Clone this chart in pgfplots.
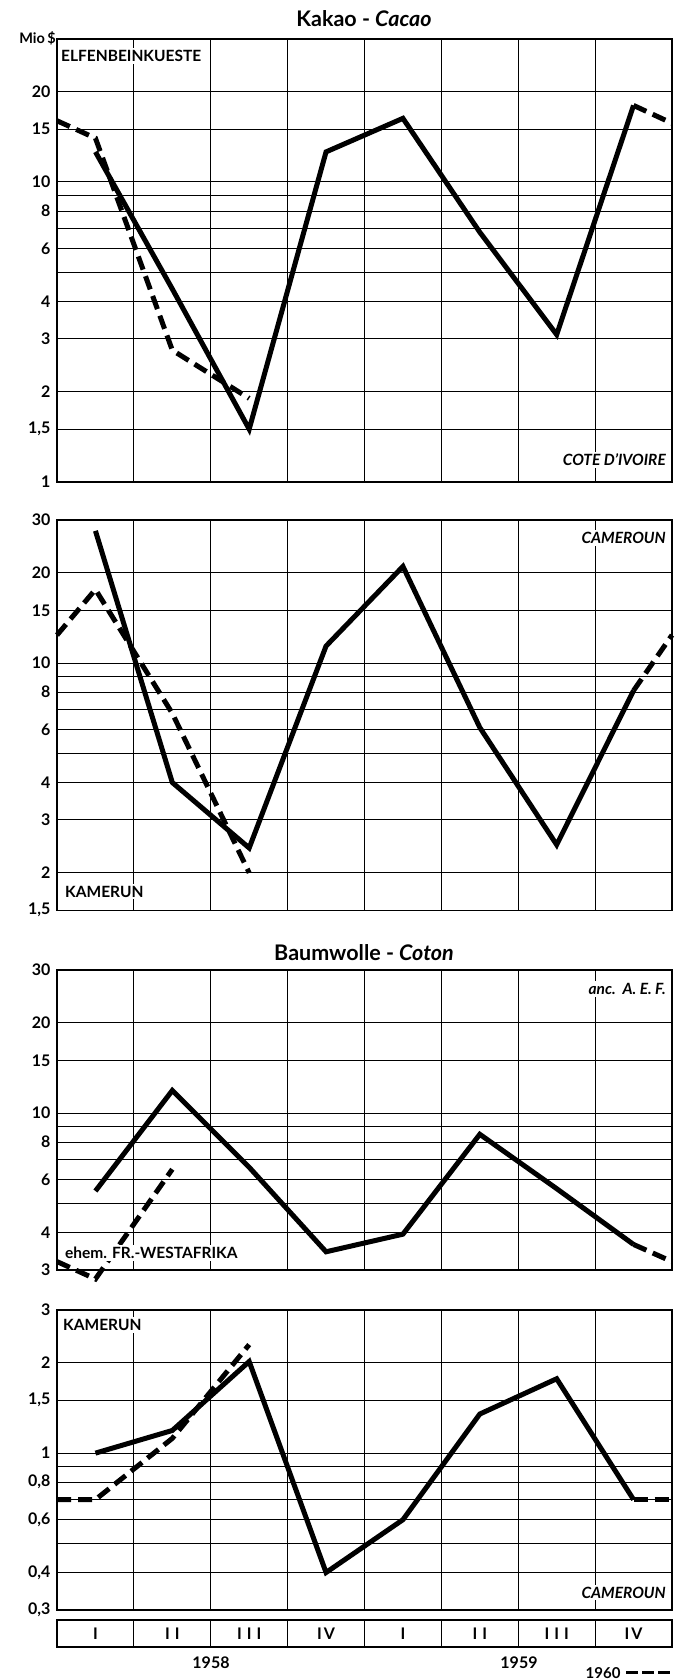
\documentclass[border=0pt]{standalone}
\usepackage{pgfplots}
\pgfplotsset{compat=1.18}
\usepackage{fontspec}
\setmainfont{Lato}
\tikzset{
  mySer/.style={black, line width=5pt, line join=miter, miter limit=4},
  mySerD/.style={black, line width=5pt, line join=miter, miter limit=4, dash pattern=on 14pt off 7pt},
  myLab/.style={font=\fontsize{15.5}{15.5}\selectfont\bfseries, fill=white, inner sep=2pt},
  myILab/.style={font=\fontsize{15.5}{15.5}\selectfont\bfseries\itshape, fill=white, inner sep=2pt},
  myQ/.style={font=\fontsize{16}{16}\selectfont\bfseries},
}
\pgfplotsset{every axis/.append style={
    scale only axis, width=615pt, xmin=0, xmax=8,
    xtick={0,...,8}, xticklabels={}, xmajorgrids, ymajorgrids,
    major grid style={black, line width=1pt},
    axis line style={black,line width=1.4pt},
    major tick length=0pt,
    yticklabel style={font=\fontsize{16}{16}\selectfont\bfseries, xshift=-3pt},
    clip=false, anchor=south west}}
\begin{document}
\begin{tikzpicture}
\useasboundingbox (0pt,0pt) rectangle (680pt,1680pt);
% Titles
\node[font=\fontsize{21.5}{21.5}\selectfont\bfseries] at (364pt,1661pt) {Kakao - \textit{Cacao}};
\node[font=\fontsize{21.5}{21.5}\selectfont\bfseries] at (364pt,727pt) {Baumwolle - \textit{Coton}};

% Panel 1
\begin{semilogyaxis}[at={(57pt,1198pt)}, height=443.1pt, ymin=1, ymax=30,
  ytick={1,1.5,2,3,4,5,6,7,8,9,10,15,20},
  yticklabels={1,{1,5},2,3,4,{},6,{},8,{},10,15,20}]
\draw[line width=1.6pt] (rel axis cs:0.5,0) -- (rel axis cs:0.5,1);
\addplot[mySer, no marks] coordinates {(0.5,12.6) (1.5,4.4) (2.5,1.5) (3.5,12.6) (4.5,16.3) (5.5,6.8) (6.5,3.1) (7.5,18)};
\addplot[mySerD, no marks] coordinates {(0,16) (0.5,14) (1.5,2.75) (2.5,1.9)};
\addplot[mySerD, no marks] coordinates {(7.5,18) (8,15.7)};
\node[anchor=east, font=\fontsize{14.5}{14.5}\selectfont\bfseries, inner sep=1pt] at ([yshift=1pt]rel axis cs:0,1) {Mio\,\$};
\node[myLab, anchor=north west] at ([xshift=2pt,yshift=-9pt]rel axis cs:0,1) {ELFENBEINKUESTE};
\node[myILab, anchor=base east] at ([xshift=-4pt,yshift=16pt]rel axis cs:1,0) {COTE D'IVOIRE};
\end{semilogyaxis}

% Panel 2
\begin{semilogyaxis}[at={(57pt,769.7pt)}, height=390.3pt, ymin=1.5, ymax=30,
  ytick={1.5,2,3,4,5,6,7,8,9,10,15,20,30},
  yticklabels={{1,5},2,3,4,{},6,{},8,{},10,15,20,30}]
\draw[line width=1.6pt] (rel axis cs:0.5,0) -- (rel axis cs:0.5,1);
\addplot[mySer, no marks] coordinates {(0.5,27.6) (1.5,4.0) (2.5,2.42) (3.5,11.4) (4.5,21) (5.5,6.1) (6.5,2.48) (7.5,8.1)};
\addplot[mySerD, no marks] coordinates {(0,12.4) (0.5,17.6) (1.5,6.8) (2.5,2.0)};
\addplot[mySerD, no marks] coordinates {(7.5,8.1) (8,12.4)};
\node[myILab, anchor=north east] at ([xshift=-4pt,yshift=-10pt]rel axis cs:1,1) {CAMEROUN};
\node[myLab, anchor=base west] at ([xshift=6pt,yshift=13pt]rel axis cs:0,0) {KAMERUN};
\end{semilogyaxis}

% Panel 3
\begin{semilogyaxis}[at={(57pt,410pt)}, height=300pt, ymin=3, ymax=30,
  ytick={3,4,5,6,7,8,9,10,15,20,30},
  yticklabels={3,4,{},6,{},8,{},10,15,20,30}]
\draw[line width=1.6pt] (rel axis cs:0.5,0) -- (rel axis cs:0.5,1);
\addplot[mySerD, no marks] coordinates {(0,3.2) (0.5,2.8) (1.5,6.5)};
\node[myLab, anchor=base west] at ([xshift=6pt,yshift=11pt]rel axis cs:0,0) {ehem. FR.-WESTAFRIKA};
\addplot[mySer, no marks] coordinates {(0.5,5.5) (1.5,11.9) (2.5,6.6) (3.5,3.45) (4.5,3.95) (5.5,8.5) (6.5,5.6) (7.5,3.65)};
\addplot[mySerD, no marks] coordinates {(7.5,3.65) (8,3.2)};
\node[myILab, anchor=north east] at ([xshift=-4pt,yshift=-11pt]rel axis cs:1,1) {anc.\ \ A.~E.~F.};
\end{semilogyaxis}

% Panel 4
\begin{semilogyaxis}[at={(57pt,70pt)}, height=300pt, ymin=0.3, ymax=3,
  ytick={0.3,0.4,0.5,0.6,0.7,0.8,0.9,1,1.5,2,3},
  yticklabels={{0,3},{0,4},{},{0,6},{},{0,8},{},1,{1,5},2,3}]
\draw[line width=1.6pt] (rel axis cs:0.5,0) -- (rel axis cs:0.5,1);
\addplot[mySer, no marks] coordinates {(0.5,1.0) (1.5,1.19) (2.5,2.02) (3.5,0.4) (4.5,0.6) (5.5,1.35) (6.5,1.77) (7.5,0.7)};
\addplot[mySerD, no marks] coordinates {(0,0.7) (0.5,0.7) (1.5,1.12) (2.5,2.3)};
\addplot[mySerD, no marks] coordinates {(7.5,0.7) (8,0.7)};
\node[myLab, anchor=north west] at ([xshift=4pt,yshift=-7pt]rel axis cs:0,1) {KAMERUN};
\node[myILab, anchor=base east] at ([xshift=-4pt,yshift=12pt]rel axis cs:1,0) {CAMEROUN};
\end{semilogyaxis}

% Quarter box
\begin{axis}[height=27pt, at={(57pt,33pt)},
  ymin=0, ymax=1, xtick={1,...,7}, ytick=\empty, ymajorgrids=false]
\node[myQ] at (axis cs:0.5,0.5) {I};
\node[myQ] at (axis cs:1.5,0.5) {I\hspace{5pt}I};
\node[myQ] at (axis cs:2.5,0.5) {I\hspace{5pt}I\hspace{5pt}I};
\node[myQ] at (axis cs:3.5,0.5) {I\hspace{2pt}V};
\node[myQ] at (axis cs:4.5,0.5) {I};
\node[myQ] at (axis cs:5.5,0.5) {I\hspace{5pt}I};
\node[myQ] at (axis cs:6.5,0.5) {I\hspace{5pt}I\hspace{5pt}I};
\node[myQ] at (axis cs:7.5,0.5) {I\hspace{2pt}V};
\end{axis}

\node[font=\fontsize{16}{16}\selectfont\bfseries] at (211pt,17pt) {1958};
\node[font=\fontsize{16}{16}\selectfont\bfseries] at (519pt,17pt) {1959};
\node[font=\fontsize{15}{15}\selectfont\bfseries, anchor=east] at (624pt,7pt) {1960};
\draw[black, line width=3pt, dash pattern=on 12pt off 4pt] (626pt,7pt) -- (672pt,7pt);
\end{tikzpicture}
\end{document}
